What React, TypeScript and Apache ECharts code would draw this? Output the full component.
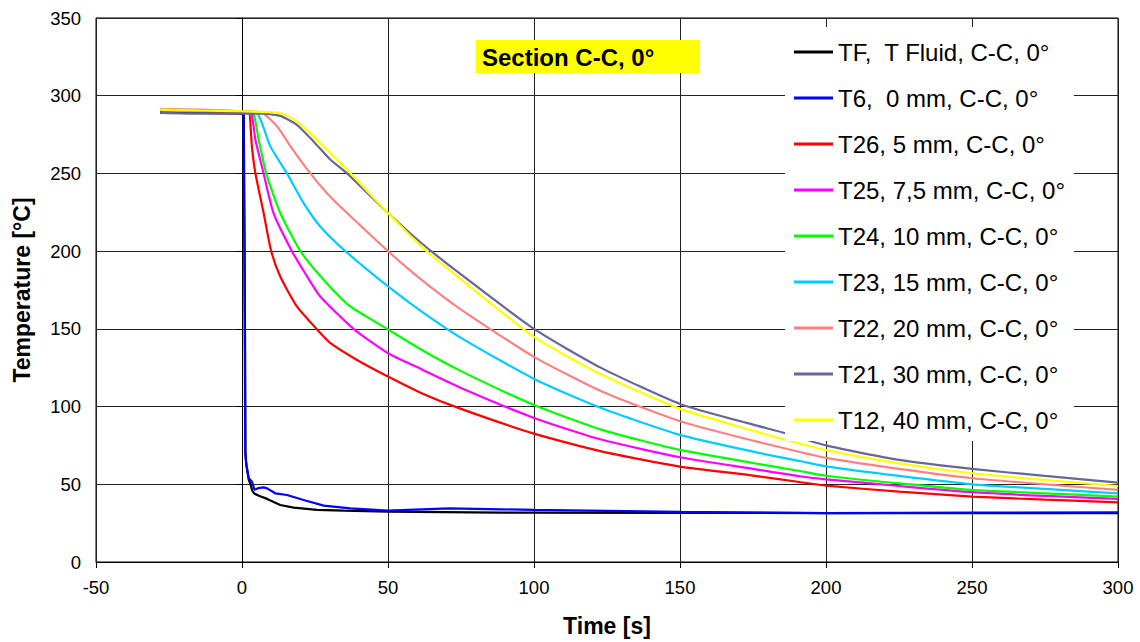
import { useEffect, useRef } from "react";
import * as echarts from "echarts";

const FONT = "'Liberation Sans', Arial, Helvetica, sans-serif";

const SERIES_NAMES = [
  "TF,  T Fluid, C-C, 0°",
  "T6,  0 mm, C-C, 0°",
  "T26, 5 mm, C-C, 0°",
  "T25, 7,5 mm, C-C, 0°",
  "T24, 10 mm, C-C, 0°",
  "T23, 15 mm, C-C, 0°",
  "T22, 20 mm, C-C, 0°",
  "T21, 30 mm, C-C, 0°",
  "T12, 40 mm, C-C, 0°",
];

const SERIES_COLORS = [
  "#000000",
  "#0000ff",
  "#ff0000",
  "#ff00ff",
  "#00ff00",
  "#00ccff",
  "#ff8080",
  "#666699",
  "#ffff00",
];

// [time s, temperature °C]
const TF = [
  [-28, 289], [-14, 289], [-1, 288.5], [0.6, 288], [0.9, 200], [1.1, 120], [1.2, 70],
  [1.5, 62], [2.3, 53], [2.9, 50], [3.5, 46], [4.2, 44], [6, 42.5], [8.6, 40.6],
  [13.1, 36.7], [17.7, 35], [25.7, 33.5], [35, 33], [50, 32.4], [88.5, 31.8],
  [150, 31.6], [200, 31.5], [250, 31.5], [300, 31.5],
];
const T6 = [
  [-28, 290], [-14, 289.5], [-1, 289], [0.5, 289], [0.8, 200], [1.0, 120], [1.1, 70],
  [1.4, 64], [2.3, 54], [3.4, 51.7], [4.3, 46.4], [5.5, 47.5], [7.4, 48], [8.6, 47.4],
  [11.4, 44.2], [15.4, 43.1], [21.1, 39.9], [28, 36.3], [37.1, 34.5], [50, 33],
  [71, 34.5], [88.5, 33.9], [100, 33.5], [150, 32.3], [200, 31.5], [250, 31.8], [300, 32],
];
const T26 = [
  [-28, 290], [-14, 290], [0, 289], [2.3, 289], [3.4, 267], [4.6, 250], [7.4, 224.5],
  [10, 200], [13.1, 183.7], [18.8, 164.4], [25.5, 150], [30.3, 140.8], [39.4, 130],
  [50, 119.3], [61.3, 108.8], [75, 98.5], [100, 82.6], [123, 71.2], [150, 61.4],
  [175, 55.6], [191.4, 51.3], [200, 49.1], [225, 45.3], [250, 42.1], [275, 40.1], [300, 38.4],
];
const T25 = [
  [-28, 291], [-14, 290.5], [0, 290], [3.1, 289], [4.6, 271.7], [7.4, 250], [10.8, 224.5],
  [17.1, 200], [22.3, 183.7], [26.8, 170.8], [38.2, 150], [50, 134.3], [61.3, 124.2],
  [75, 112], [100, 92.7], [123, 78.8], [150, 67.4], [175, 59.9], [191.4, 55],
  [200, 53.2], [225, 48.9], [250, 44.9], [275, 42.5], [300, 40.6],
];
const T24 = [
  [-28, 290.5], [-14, 290], [0, 290], [3.8, 289], [5.7, 271.7], [8.3, 250], [13.1, 224.5],
  [20, 200], [28, 181.5], [37.1, 164.4], [49.7, 150], [61.3, 136.7], [75, 122.8],
  [100, 101], [123, 85.2], [150, 72.1], [175, 63.7], [191.4, 58.4], [200, 55.5],
  [225, 50.6], [250, 46.4], [275, 44.2], [300, 42.1],
];
const T23 = [
  [-28, 291], [-14, 290.5], [0, 290], [5.1, 289], [9.7, 267.4], [15.4, 250], [21.1, 230.9],
  [26.8, 215.9], [35.4, 200], [50, 177.3], [61.3, 161.4], [75, 144.2], [100, 117.8],
  [123, 99.1], [150, 81.8], [175, 71], [191.4, 64.8], [200, 61.5], [225, 55.4],
  [250, 50], [275, 47], [300, 44.2],
];
const T22 = [
  [-28, 291.5], [-14, 291], [0, 290], [6.8, 289], [12, 280.3], [16.6, 267.4], [23.4, 250],
  [29.1, 237.3], [36, 224.5], [50, 200], [61.3, 181.8], [75, 162.4], [100, 132],
  [123, 109.9], [150, 90.6], [175, 78.1], [191.4, 70.6], [200, 67], [225, 59.9],
  [250, 53.9], [275, 50], [300, 46.4],
];
const T21 = [
  [-28, 289], [-14, 288.5], [0, 288.5], [7, 288.5], [13.1, 287], [18.8, 281.3],
  [24.5, 270.6], [30.3, 258.8], [36, 250], [50, 224.5], [61.3, 205.4], [75, 185],
  [100, 150], [123, 124.9], [150, 101.7], [175, 88.4], [186.3, 82.8], [200, 75],
  [225, 65.7], [250, 59.9], [275, 55.4], [300, 51.1],
];
const T12 = [
  [-28, 291], [-14, 290.5], [0, 290], [7.4, 289.5], [13.1, 288.8], [18.8, 283.5],
  [24.5, 273.8], [30.3, 263], [36, 252.4], [50, 224.5], [61.3, 203.2], [75, 181.8],
  [100, 144.8], [123, 120.6], [150, 98.5], [175, 84.5], [186.3, 78.5], [200, 72],
  [225, 63.5], [250, 57.1], [275, 52.8], [300, 48.9],
];

const SERIES_DATA = [TF, T6, T26, T25, T24, T23, T22, T21, T12];
const SMOOTHED = [false, false, true, true, true, true, true, true, true];

export default function App() {
  const ref = useRef<HTMLDivElement>(null);

  useEffect(() => {
    if (!ref.current) return;
    const chart = echarts.init(ref.current, null, { renderer: "svg" });
    chart.setOption({
      animation: false,
      backgroundColor: "#ffffff",
      grid: {
        left: 96,
        right: 22,
        top: 18,
        bottom: 80,
        show: true,
        borderColor: "#000",
        borderWidth: 1,
        backgroundColor: "transparent",
      },
      xAxis: {
        type: "value",
        min: -50,
        max: 300,
        interval: 50,
        name: "Time [s]",
        nameLocation: "middle",
        nameGap: 52,
        nameTextStyle: { fontFamily: FONT, fontSize: 23, fontWeight: "bold", color: "#000" },
        axisLine: { show: true, onZero: false, lineStyle: { color: "#000", width: 1 } },
        axisTick: { show: true, inside: false, length: 6, lineStyle: { color: "#000" } },
        axisLabel: { fontFamily: FONT, fontSize: 18.5, color: "#000", margin: 16 },
        splitLine: { show: true, lineStyle: { color: "#222", width: 1 } },
      },
      yAxis: {
        type: "value",
        min: 0,
        max: 350,
        interval: 50,
        name: "Temperature [°C]",
        nameLocation: "middle",
        nameGap: 63,
        nameTextStyle: { fontFamily: FONT, fontSize: 23, fontWeight: "bold", color: "#000" },
        axisLine: { show: true, lineStyle: { color: "#000", width: 1 } },
        axisTick: { show: true, inside: false, length: 6, lineStyle: { color: "#000" } },
        axisLabel: { fontFamily: FONT, fontSize: 18.5, color: "#000", margin: 15 },
        splitLine: { show: true, lineStyle: { color: "#222", width: 1 } },
      },
      legend: {
        orient: "vertical",
        left: 785,
        top: 27,
        backgroundColor: "#ffffff",
        padding: [13, 9, 9, 9],
        itemGap: 22,
        itemWidth: 39,
        itemHeight: 3,
        icon: "rect",
        data: SERIES_NAMES,
        textStyle: { fontFamily: FONT, fontSize: 24, color: "#000", lineHeight: 24 },
        z: 10,
      },
      graphic: [
        {
          type: "rect",
          z: 20,
          shape: { x: 476, y: 40, width: 224, height: 33 },
          style: { fill: "#ffff00" },
        },
        {
          type: "text",
          z: 21,
          x: 482,
          y: 57,
          style: {
            text: "Section C-C, 0°",
            fontFamily: FONT,
            fontSize: 24,
            fontWeight: "bold",
            fill: "#000",
            verticalAlign: "middle",
          },
        },
      ],
      series: SERIES_NAMES.map((name, i) => ({
        name,
        type: "line",
        data: SERIES_DATA[i],
        showSymbol: false,
        symbol: "none",
        smooth: SMOOTHED[i] ? 0.2 : false,
        lineStyle: { color: SERIES_COLORS[i], width: 2.2 },
        itemStyle: { color: SERIES_COLORS[i] },
        z: 2 + i * 0.01,
      })),
    });
    return () => chart.dispose();
  }, []);

  return (
    <div
      ref={ref}
      style={{ position: "fixed", left: 0, top: 0, width: 1140, height: 642, background: "#fff" }}
    />
  );
}
